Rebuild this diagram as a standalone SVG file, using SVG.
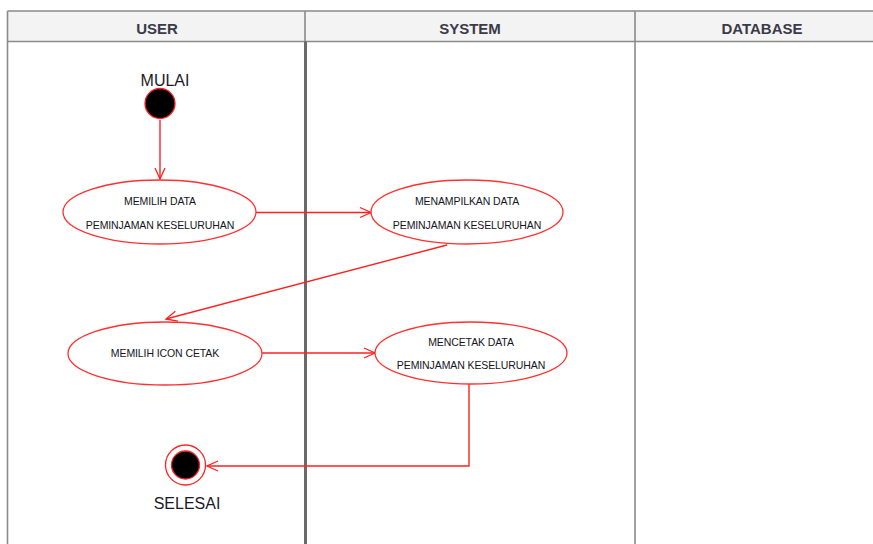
<svg xmlns="http://www.w3.org/2000/svg" width="873" height="544" viewBox="0 0 873 544">
<defs>
<marker id="arr" markerWidth="14" markerHeight="14" refX="12" refY="7" orient="auto" markerUnits="userSpaceOnUse">
<path d="M1,2 L12,7 L1,12" fill="none" stroke="#ff2020" stroke-width="1.3"/>
</marker>
<style>
.hdr{font-family:"Liberation Sans",Arial,sans-serif;font-size:15px;font-weight:bold;fill:#3a3a4a;text-anchor:middle}
.grid{stroke:#8a8a8a;stroke-width:1.6;fill:none}
.act{fill:#fff;stroke:#ff3030;stroke-width:1.3}
.lbl{font-family:"Liberation Sans",Arial,sans-serif;font-size:10.5px;fill:#141424;text-anchor:middle;letter-spacing:-0.1px}
.big{font-family:"Liberation Sans",Arial,sans-serif;font-size:16px;fill:#1a1a2a;text-anchor:middle}
.con{stroke:#ff2020;stroke-width:1.4;fill:none}
</style>
</defs>
<rect width="873" height="544" fill="#fff"/>
<g id="swimlanes">
<rect x="7.5" y="11" width="880" height="30.5" fill="#f3f3f3"/>
<path class="grid" d="M7.5,11 H880 M7.5,41.5 H880 M7.5,11 V544 M305,11 V41.5 M635,11 V544"/>
<line x1="305.5" y1="41.5" x2="305.5" y2="544" stroke="#6a6a6a" stroke-width="3"/>
<text class="hdr" x="157" y="34">USER</text>
<text class="hdr" x="470" y="34">SYSTEM</text>
<text class="hdr" x="762" y="34">DATABASE</text>
</g>
<g id="connectors">
<line class="con" x1="160" y1="120" x2="160" y2="179" marker-end="url(#arr)"/>
<line class="con" x1="256" y1="212.5" x2="371" y2="212.5" marker-end="url(#arr)"/>
<line class="con" x1="447" y1="245" x2="166" y2="319" marker-end="url(#arr)"/>
<line class="con" x1="262" y1="353" x2="375" y2="353" marker-end="url(#arr)"/>
<polyline class="con" points="469,384 469,466 207,466" marker-end="url(#arr)"/>
</g>
<g id="start">
<text class="big" x="165" y="86">MULAI</text>
<circle cx="160" cy="103.5" r="15" fill="#000" stroke="#ff2020" stroke-width="1.3"/>
</g>
<g id="a1">
<ellipse class="act" cx="159.5" cy="212" rx="96.5" ry="32"/>
<text class="lbl" x="160" y="204.5">MEMILIH DATA</text>
<text class="lbl" x="160" y="228.5">PEMINJAMAN KESELURUHAN</text>
</g>
<g id="a2">
<ellipse class="act" cx="467" cy="212" rx="96" ry="32"/>
<text class="lbl" x="467" y="204.5">MENAMPILKAN DATA</text>
<text class="lbl" x="467" y="228.5">PEMINJAMAN KESELURUHAN</text>
</g>
<g id="a3">
<ellipse class="act" cx="165" cy="353.5" rx="97" ry="31.5"/>
<text class="lbl" x="165" y="357">MEMILIH ICON CETAK</text>
</g>
<g id="a4">
<ellipse class="act" cx="471" cy="353" rx="96" ry="31"/>
<text class="lbl" x="471" y="345.5">MENCETAK DATA</text>
<text class="lbl" x="471" y="368.5">PEMINJAMAN KESELURUHAN</text>
</g>
<g id="end">
<circle cx="185.5" cy="465" r="20" fill="#fff" stroke="#ff2020" stroke-width="1.3"/>
<circle cx="185.5" cy="465" r="14" fill="#000" stroke="#ff2020" stroke-width="1.3"/>
<text class="big" x="187" y="509">SELESAI</text>
</g>
</svg>
